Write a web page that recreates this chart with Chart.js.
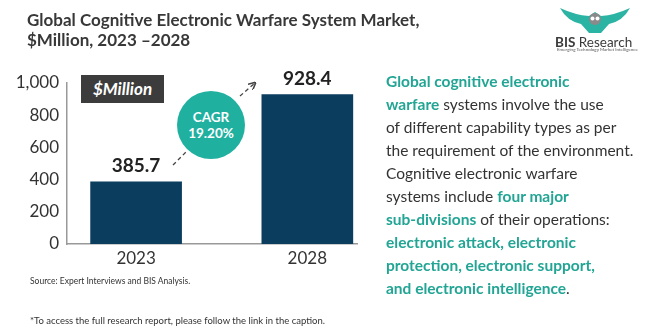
<!DOCTYPE html>
<html>
<head>
<meta charset="utf-8">
<script src="https://cdn.jsdelivr.net/npm/chart.js@4.4.1/dist/chart.umd.min.js"></script>
<style>
  html, body { margin:0; padding:0; background:#fff; }
  #wrap { position:relative; width:668px; height:333px; overflow:hidden; font-family: Lato, "Open Sans", sans-serif; }
  #c { position:absolute; left:0; top:0; }
  .abs { position:absolute; white-space:nowrap; }
  #title { left:27px; top:10px; font-size:17px; line-height:20px; font-weight:700; color:#383838; }
  #para { left:386px; top:70px; font-size:15.5px; line-height:23px; color:#333; }
  #para b { color:#22a594; font-weight:700; }
  #unit { left:81px; top:75px; width:83px; height:28px; background:#3c3c3c; color:#fff; font-weight:700; font-style:italic; font-size:17px; line-height:28px; text-align:center; }
  #cagr { left:177px; top:91px; width:68px; height:68px; border-radius:50%; background:#20b09f; color:#fff; font-weight:700; font-size:13.5px; line-height:16px; text-align:center; display:flex; flex-direction:column; justify-content:center; }
  #src { left:30px; top:276px; font-size:8.5px; color:#333; }
  #note { left:30px; top:315px; font-size:9.5px; color:#333; }
  #brand { left:555px; top:34px; font-size:13.5px; color:#3a3a3a; }
  #brand b { font-weight:700; }
  #tag { left:557px; top:47px; font-size:4.5px; color:#555; }
  svg.ov { position:absolute; left:0; top:0; }
</style>
</head>
<body>
<div id="wrap">
  <canvas id="c" width="668" height="333"></canvas>
  <div class="abs" id="title">Global Cognitive Electronic Warfare System Market,<br>$Million, 2023 –2028</div>
  <div class="abs" id="unit">$Million</div>
  <svg class="ov" width="668" height="333">
    <defs>
      <marker id="ah" markerWidth="6" markerHeight="6" refX="5" refY="3" orient="auto">
        <path d="M0,0 L6,3 L0,6" fill="none" stroke="#444" stroke-width="1.2"/>
      </marker>
    </defs>
    <line x1="173" y1="165" x2="187" y2="151" stroke="#444" stroke-width="1.3" stroke-dasharray="4,3"/>
    <line x1="240" y1="96" x2="255" y2="83" stroke="#444" stroke-width="1.3" stroke-dasharray="4,3" marker-end="url(#ah)"/>
    <path d="M560,8 Q575,15 589,16 L595,12 L601,16 Q615,15 630,8 Q623,21 609,24 L601,33 L589,33 L581,24 Q567,21 560,8 Z" fill="#2bb3a3"/>
    <circle cx="595" cy="19" r="6" fill="#8a8a8a"/>
    <circle cx="592.5" cy="18.5" r="2" fill="#fff"/>
    <circle cx="597.5" cy="18.5" r="2" fill="#fff"/>
  </svg>
  <div class="abs" id="cagr"><span>CAGR</span><span>19.20%</span></div>
  <div class="abs" id="para"><b>Global cognitive electronic</b><br><b>warfare</b> systems involve the use<br>of different capability types as per<br>the requirement of the environment.<br>Cognitive electronic warfare<br>systems include <b>four major</b><br><b>sub-divisions</b> of their operations:<br><b>electronic attack, electronic</b><br><b>protection, electronic support,</b><br><b>and electronic intelligence</b>.</div>
  <div class="abs" id="src">Source: Expert Interviews and BIS Analysis.</div>
  <div class="abs" id="note">*To access the full research report, please follow the link in the caption.</div>
  <div class="abs" id="brand"><b>BIS</b> Research</div>
  <div class="abs" id="tag">Emerging Technology Market Intelligence</div>
</div>
<script>
const categories = ['2023', '2028'];
const marketValues = [385.7, 928.4];
const yTickValues = [0, 200, 400, 600, 800, 1000];

const valueLabels = {
  id: 'valueLabels',
  afterDatasetsDraw(chart) {
    const ctx = chart.ctx;
    const meta = chart.getDatasetMeta(0);
    ctx.save();
    ctx.font = '700 19px Lato, sans-serif';
    ctx.fillStyle = '#222';
    ctx.textAlign = 'center';
    ctx.textBaseline = 'middle';
    meta.data.forEach((bar, i) => {
      ctx.fillText(marketValues[i].toFixed(1), bar.x, bar.y - 16);
    });
    ctx.restore();
  }
};

new Chart(document.getElementById('c'), {
  type: 'bar',
  data: {
    datasets: [{
      data: marketValues.map((v, i) => ({ x: i, y: v })),
      backgroundColor: '#0b3d5f',
      barThickness: 91
    }]
  },
  options: {
    responsive: false,
    animation: false,
    events: [],
    layout: { padding: { left: 0, top: 83, right: 311, bottom: 59 } },
    plugins: { legend: { display: false }, tooltip: { enabled: false } },
    scales: {
      x: {
        type: 'linear',
        offset: false,
        min: -0.4035,
        max: 1.29,
        afterBuildTicks: s => { s.ticks = categories.map((c, i) => ({ value: i })); },
        afterFit: s => { s.height = 30; },
        grid: { display: false, drawTicks: false, offset: false },
        border: { display: true, color: '#999', width: 1.5 },
        ticks: {
          autoSkip: false,
          maxRotation: 0,
          padding: 4,
          color: '#333',
          font: { family: 'Lato, sans-serif', size: 17 },
          callback: v => categories[v] ?? ''
        }
      },
      y: {
        min: 0,
        max: 1000,
        afterBuildTicks: s => { s.ticks = yTickValues.map(v => ({ value: v })); },
        afterFit: s => { s.width = 67; },
        grid: { display: false, drawTicks: false },
        border: { display: true, color: '#999', width: 1.5 },
        ticks: {
          padding: 8,
          color: '#333',
          font: { family: 'Lato, sans-serif', size: 17 },
          callback: v => v.toLocaleString('en-US')
        }
      }
    }
  },
  plugins: [valueLabels]
});
</script>
</body>
</html>
